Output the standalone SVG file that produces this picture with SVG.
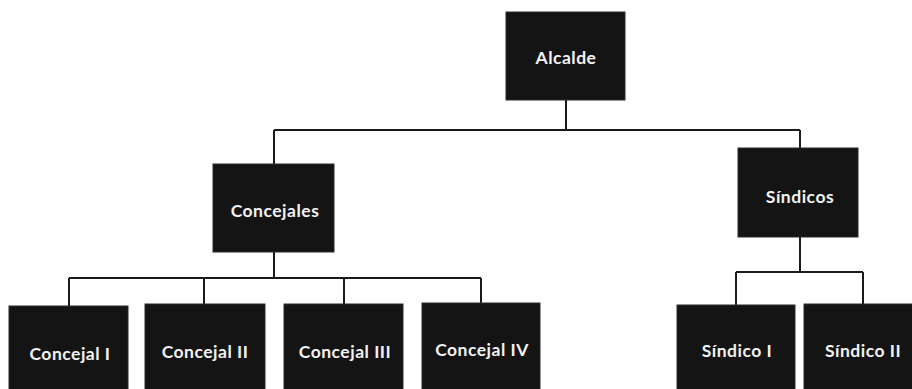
<svg xmlns="http://www.w3.org/2000/svg" width="912" height="389" viewBox="0 0 912 389">
<style>
.box{fill:#141414;stroke:#2a2a2a;stroke-width:1}
.lbl{font-family:Lato,"Open Sans","Liberation Sans",sans-serif;font-weight:bold;font-size:17.5px;letter-spacing:0.5px;fill:#f2f2f2;text-anchor:middle;dominant-baseline:central}
.ln{stroke:#1a1a1a;stroke-width:2;fill:none}
</style>
<rect width="912" height="389" fill="#ffffff"/>
<g id="connectors">
<path class="ln" d="M566 100V130M274 130H800M274 130V164M800 130V148"/>
<path class="ln" d="M274 252V278M69 278H481M69 278V306M204 278V304M344 278V304M481 278V303"/>
<path class="ln" d="M800 237V272M736 272H863M736 272V305M863 272V304"/>
</g>
<g id="alcalde"><rect class="box" x="506" y="12" width="119" height="88"/><text class="lbl" x="566" y="57">Alcalde</text></g>
<g id="concejales"><rect class="box" x="213" y="164" width="121" height="88"/><text class="lbl" x="275" y="210">Concejales</text></g>
<g id="sindicos"><rect class="box" x="738" y="148" width="120" height="89"/><text class="lbl" x="800" y="196">Síndicos</text></g>
<g id="concejal1"><rect class="box" x="9" y="306" width="119" height="100"/><text class="lbl" x="70" y="353">Concejal I</text></g>
<g id="concejal2"><rect class="box" x="145" y="304" width="120" height="100"/><text class="lbl" x="205" y="351">Concejal II</text></g>
<g id="concejal3"><rect class="box" x="284" y="304" width="119" height="100"/><text class="lbl" x="345" y="351">Concejal III</text></g>
<g id="concejal4"><rect class="box" x="422" y="303" width="118" height="100"/><text class="lbl" x="482" y="349">Concejal IV</text></g>
<g id="sindico1"><rect class="box" x="677" y="305" width="118" height="100"/><text class="lbl" x="737" y="350">Síndico I</text></g>
<g id="sindico2"><rect class="box" x="804" y="304" width="118" height="100"/><text class="lbl" x="863" y="350">Síndico II</text></g>
</svg>
